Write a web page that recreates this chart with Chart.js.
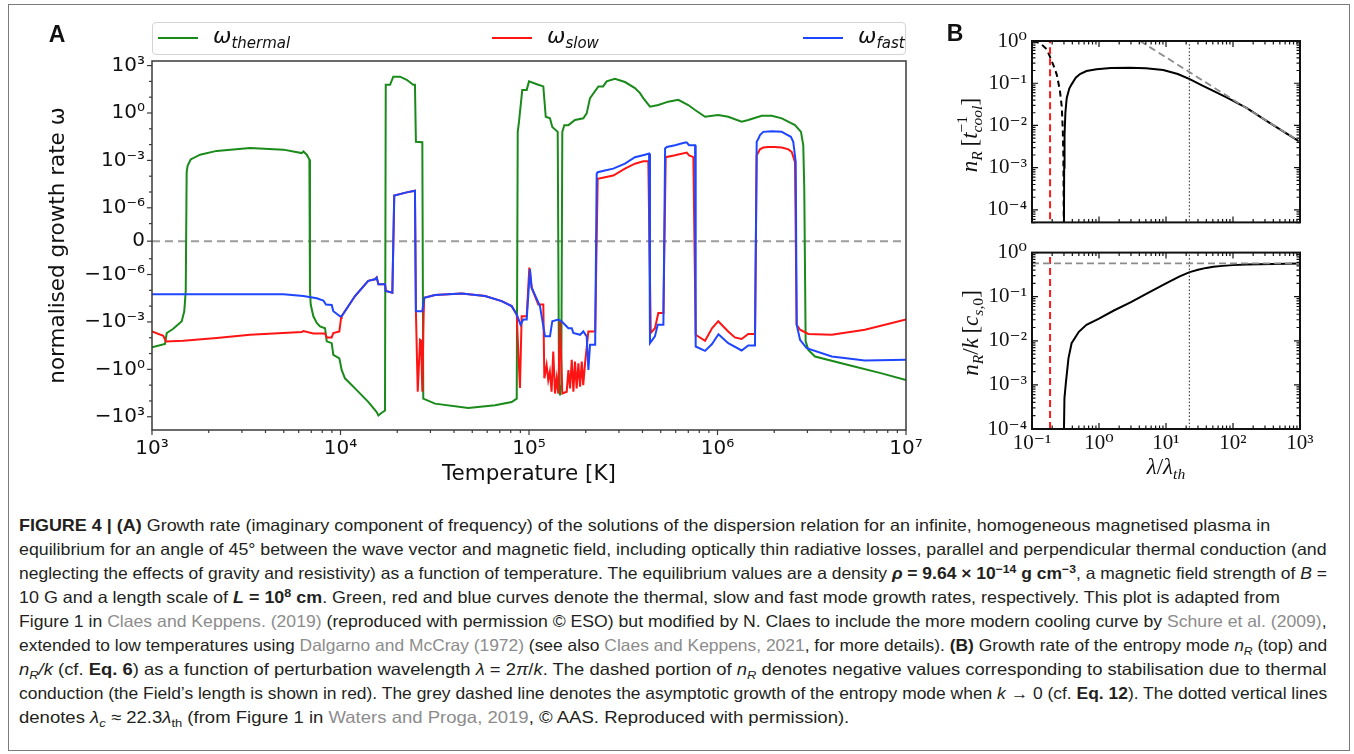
<!DOCTYPE html>
<html lang="en">
<head>
<meta charset="UTF-8">
<title>Figure 4 - growth rates</title>
<script src="https://cdn.jsdelivr.net/npm/chart.js"></script>
<style>
  body { margin: 0; background: #fff; }
  #fig { position: relative; width: 1354px; height: 754px; overflow: hidden; font-family: 'DejaVu Sans', sans-serif; color: #111; }
  .frame { position: absolute; left: 8px; top: 4px; width: 1342px; height: 747px; border: 1px solid #7a7a7a; box-sizing: border-box; }
  canvas { position: absolute; }
  .abs { position: absolute; white-space: nowrap; line-height: 1; }
  .c { transform: translate(-50%, -50%); }
  .rot { transform: translate(-50%, -50%) rotate(-90deg); }
  .panel { font: bold 23px 'Liberation Sans', Arial, sans-serif; }
  #legA { position: absolute; left: 152px; top: 22px; width: 754px; height: 33px; border: 1px solid #d4d4d4; border-radius: 4px; box-sizing: border-box; background: #fff; }
  .li { position: absolute; top: 0; height: 29px; display: flex; align-items: center; }
  .sw { width: 40px; height: 0; border-top: 2.5px solid; margin-right: 15px; }
  .om { font: italic 22px 'DejaVu Sans', sans-serif; }
  .om sub { font-size: 15px; vertical-align: -5px; }
  .ser { font-family: 'Liberation Serif', 'DejaVu Serif', serif; font-size: 23px; }
  .ser sub { font-size: 0.68em; vertical-align: -0.3em; }
  .stack { display: inline-block; font-size: 0.68em; line-height: 0.95; vertical-align: -0.32em; text-align: left; }
  .stack span { display: block; }
  .cap { position: absolute; left: 19px; font: 16.5px 'Liberation Sans', Arial, sans-serif; color: #231f20; white-space: nowrap; transform-origin: 0 50%; line-height: 24px; height: 24px; }
  .cap .r { color: #8c8c8c; }
  .cap sub, .cap sup { font-size: 0.7em; line-height: 0; }
</style>
</head>
<body>
<div id="fig">
  <div class="frame"></div>
  <canvas id="cA" width="930" height="500" style="left:0;top:0"></canvas>
  <canvas id="cB1" width="400" height="240" style="left:930px;top:0"></canvas>
  <canvas id="cB2" width="400" height="265" style="left:930px;top:235px"></canvas>

  <div class="abs panel c" style="left:57px;top:34px">A</div>
  <div class="abs panel c" style="left:955px;top:33px">B</div>

  <div id="legA">
    <div class="li" style="left:5px"><span class="sw" style="border-color:#1a8a1a"></span><span class="om">ω<sub>thermal</sub></span></div>
    <div class="li" style="left:339px"><span class="sw" style="border-color:#ff1414"></span><span class="om">ω<sub>slow</sub></span></div>
    <div class="li" style="left:650px"><span class="sw" style="border-color:#1f46ff"></span><span class="om">ω<sub>fast</sub></span></div>
  </div>

  <div class="abs ser rot" style="left:970px;top:135px"><i>n<sub>R</sub></i>&thinsp;[<i>t</i><span class="stack"><span>−1</span><span><i>cool</i></span></span>]</div>
  <div class="abs ser rot" style="left:972px;top:333px"><i>n<sub>R</sub></i>/<i>k</i>&thinsp;[<i>c</i><sub><i>s</i>,0</sub>]</div>
  <div class="abs ser c" style="left:1166px;top:468px"><i>λ</i>/<i>λ<sub>th</sub></i></div>

  <div class="cap" data-w="1251" style="top:513px"><b>FIGURE 4 | (A)</b> Growth rate (imaginary component of frequency) of the solutions of the dispersion relation for an infinite, homogeneous magnetised plasma in</div>
  <div class="cap" data-w="1308" style="top:537px">equilibrium for an angle of 45° between the wave vector and magnetic field, including optically thin radiative losses, parallel and perpendicular thermal conduction (and</div>
  <div class="cap" data-w="1308" style="top:561px">neglecting the effects of gravity and resistivity) as a function of temperature. The equilibrium values are a density <b><i>ρ</i> = 9.64 × 10<sup>−14</sup> g cm<sup>−3</sup></b>, a magnetic field strength of <i>B</i> =</div>
  <div class="cap" data-w="1261" style="top:585px">10 G and a length scale of <b><i>L</i> = 10<sup>8</sup> cm</b>. Green, red and blue curves denote the thermal, slow and fast mode growth rates, respectively. This plot is adapted from</div>
  <div class="cap" data-w="1308" style="top:609px">Figure 1 in <span class="r">Claes and Keppens. (2019)</span> (reproduced with permission © ESO) but modified by N. Claes to include the more modern cooling curve by <span class="r">Schure et al. (2009)</span>,</div>
  <div class="cap" data-w="1308" style="top:633px">extended to low temperatures using <span class="r">Dalgarno and McCray (1972)</span> (see also <span class="r">Claes and Keppens, 2021</span>, for more details). <b>(B)</b> Growth rate of the entropy mode <i>n<sub>R</sub></i> (top) and</div>
  <div class="cap" data-w="1308" style="top:657px"><i>n<sub>R</sub>/k</i> (cf. <b>Eq. 6</b>) as a function of perturbation wavelength <i>λ</i> = 2<i>π</i>/<i>k</i>. The dashed portion of <i>n<sub>R</sub></i> denotes negative values corresponding to stabilisation due to thermal</div>
  <div class="cap" data-w="1308" style="top:681px">conduction (the Field’s length is shown in red). The grey dashed line denotes the asymptotic growth of the entropy mode when <i>k</i> → 0 (cf. <b>Eq. 12</b>). The dotted vertical lines</div>
  <div class="cap" data-w="830" style="top:705px">denotes <i>λ<sub>c</sub></i> ≈ 22.3<i>λ</i><sub>th</sub> (from Figure 1 in <span class="r">Waters and Proga, 2019</span>, © AAS. Reproduced with permission).</div>
</div>

<script>
// ---- panel A data: temperature [K] and normalised growth rate ----
const tThermal = [1000, 1172, 1197, 1297, 1438, 1483, 1510, 1527, 1546, 1604, 1799, 2204, 3311, 4977, 6223, 6353, 6622, 6839, 6887, 6950,
  7178, 7482, 7786, 8279, 8452, 8981, 9162, 9863, 10140, 10560, 11940, 14030, 15560, 15890, 16410, 17220, 17380, 18320, 19050, 20700,
  22440, 24320, 24830, 25120, 27170, 27490, 31700, 47640, 66070, 80910, 86070, 87140, 88510, 92100, 97230, 100000, 112000, 119100, 122700, 129200,
  132900, 142000, 144300, 146000, 148300, 150200, 153900, 161800, 175400, 194200, 202300, 210700, 233400, 247300, 258300, 285800, 322900, 364800, 388100, 403800,
  438300, 485300, 548300, 619300, 699700, 760300, 859000, 1.009e6, 1.14e6, 1.343e6, 1.456e6, 1.715e6, 1.94e6, 2.193e6, 2.577e6, 2.773e6, 2.851e6, 2.886e6, 2.935e6, 3.033e6,
  3.291e6, 4.94e6, 7.43e6, 1e7];
const wThermal = [-0.04, -0.025, -5e-3, -2.7e-3, -9e-4, -2.1e-4, -1.1e-5, 1.8e-4, 4.8e-4, 1.15e-3, 2.3e-3, 4e-3, 6.1e-3, 4.8e-3, 2.9e-3, 3.7e-3, 2.3e-3, 1.15e-3, -1e-5, -7.9e-5,
  -4.4e-4, -1.16e-3, -1.9e-3, -2.5e-3, -0.017, -0.022, -0.12, -0.2, -1.1, -3.7, -16, -115, -500, -830, -600, -400, 61, 61, 200, 200,
  127, 61, 61, 0.015, 0.014, -71, -148, -280, -190, -116, -71, 0.064, 0.28, 29, 29, 100, 61, 48, 0.58, 0.46,
  0.13, 0.064, -10, -44, -10, 0.064, 0.17, 0.17, 0.36, 0.46, 0.95, 8.7, 48, 48, 100, 148, 91, 38, 18, 8.7,
  2.5, 3.2, 5.2, 6.8, 3.2, 1.55, 0.58, 0.75, 0.58, 0.28, 0.36, 0.67, 0.67, 0.46, 0.17, 0.064, 9e-3, 1.6e-5, -0.017, -0.059,
  -0.155, -0.53, -1.8, -4.8];

const tSlow = [1000, 1148, 1186, 1466, 2204, 3311, 6223, 6353, 7178, 8279, 8452, 8981, 9162, 9863, 10070, 10140, 11940, 14030, 15240, 15560,
  15890, 17220, 17380, 18840, 19280, 22440, 24830, 25120, 25690, 26420, 26730, 27170, 27610, 27800, 31700, 43950, 58480, 71610, 80910, 86070,
  87720, 89540, 91430, 97230, 100400, 103300, 112000, 119100, 120600, 124000, 126500, 129000, 131800, 134500, 137400, 140200, 143000, 146000, 150300, 158500,
  161800, 165100, 168600, 172000, 175400, 179000, 182800, 186600, 190500, 194000, 198000, 206500, 224400, 231400, 253000, 280000, 322900, 364800, 403800, 429500,
  442600, 465900, 485300, 516400, 531300, 595400, 687000, 706600, 744700, 766100, 859000, 935000, 1.009e6, 1.14e6, 1.236e6, 1.343e6, 1.456e6, 1.581e6, 1.614e6, 1.65e6,
  1.68e6, 1.75e6, 1.862e6, 2.0e6, 2.193e6, 2.38e6, 2.477e6, 2.577e6, 2.63e6, 2.741e6, 3.033e6, 4.04e6, 6.05e6, 1e7];
const wSlow = [-4e-3, -7.5e-3, -0.017, -0.0155, -0.0105, -6.5e-3, -4.4e-3, -3.8e-3, -5.3e-3, -5.3e-3, -9.5e-3, -9.5e-3, -5e-3, -4e-3, -5.6e-4, -4.4e-4, -2.3e-5, -2.5e-6, -2e-6, -1.55e-6,
  -4.2e-6, -4.2e-6, -1.1e-5, -1.4e-5, 5.9e-6, 9.5e-6, 1.2e-5, -2.1e-4, -26, -0.0135, -0.015, -26, -3.4e-4, -3e-5, -2e-5, -1.6e-5, -2.3e-5, -4.8e-5, -1e-4, -3.4e-4,
  -0.074, -15, -4.4e-4, -4.4e-4, -3.6e-7, -6.8e-6, -7.9e-5, -7.9e-5, -3.7, -0.53, -4.8, -1.4, -26, -0.074, -34, -3.7, -34, -9e-4, -34, -26,
  -1.1, -16, -0.25, -26, -0.32, -16, -0.41, -12.7, -0.32, -10, -0.5, -4e-3, -4e-3, 6.8e-5, 8.7e-5, 1.1e-4, 3e-4, 6.2e-4, 8.7e-4, 8.7e-4,
  -5e-3, -2.5e-3, -2.7e-4, -2.7e-4, 1.6e-3, 2.1e-3, 3.1e-3, 2.1e-3, 1.6e-3, -6.5e-3, -0.0155, -2.5e-3, -9e-4, -4e-3, -9.5e-3, -0.012, -5.8e-3, -5.8e-3, 2.1e-3, 3.4e-3,
  5e-3, 6.5e-3, 7e-3, 7e-3, 6.5e-3, 5e-3, 3.4e-3, 7.8e-4, -1.5e-3, -3.1e-3, -5.8e-3, -6.5e-3, -3.1e-3, -7.1e-4];

const tFast = [1000, 2204, 4977, 6353, 7482, 8110, 8375, 8981, 9162, 9934, 10140, 11940, 14030, 15240, 15560, 15890, 17220, 17380, 18840, 19280,
  22440, 24830, 25120, 27170, 27800, 31700, 43950, 58480, 71610, 80910, 86070, 90220, 93250, 97230, 101200, 103300, 114300, 121600, 129200, 132900,
  142900, 148900, 155200, 161800, 168600, 171900, 186600, 194200, 202300, 206600, 210700, 224400, 228600, 231400, 252800, 279900, 322900, 364800, 412400, 433500,
  438300, 465600, 481700, 516400, 527300, 538500, 595400, 672800, 687000, 706600, 760300, 766100, 859000, 935000, 1.012e6, 1.14e6, 1.343e6, 1.456e6, 1.581e6, 1.614e6,
  1.65e6, 1.68e6, 1.75e6, 1.94e6, 2.193e6, 2.28e6, 2.45e6, 2.523e6, 2.6e6, 2.63e6, 2.741e6, 2.972e6, 4.04e6, 6.05e6, 1e7];
const wFast = [-1.8e-5, -1.8e-5, -1.8e-5, -2.3e-5, -3.2e-5, -4.4e-5, -7.9e-5, -8.5e-5, -2.1e-4, -4.4e-4, -4.4e-4, -2.3e-5, -2.5e-6, -2e-6, -1.55e-6, -4.2e-6, -4.2e-6, -1.1e-5, -1.4e-5, 5.9e-6,
  9.5e-6, 1.2e-5, -2.1e-4, -2.1e-4, -3e-5, -2e-5, -1.6e-5, -2.3e-5, -4.8e-5, -1e-4, -3.4e-4, -1.5e-3, -7.1e-4, -7.1e-4, -4.6e-7, -6.8e-6, -1e-4, -8.2e-3, -8.2e-3, -9e-4,
  -7.1e-4, -9e-4, -1.5e-3, -2.5e-3, -2.5e-3, -5e-3, -6.5e-3, -4e-3, -8.2e-3, -1.1, -0.028, -0.028, 1.4e-4, 1.8e-4, 2.3e-4, 3e-4, 6.2e-4, 1.6e-3, 2.3e-3, 2.7e-3,
  -0.022, -8.2e-3, -1.5e-3, -1.5e-3, 5.6e-3, 7e-3, 9.1e-3, 0.0135, 0.0135, 9.1e-3, 9.1e-3, -0.036, -0.068, -0.025, -6e-3, -0.022, -0.064, -0.031, -0.031, 0.015,
  0.024, 0.04, 0.064, 0.071, 0.064, 0.05, 0.031, 0.015, 7.8e-4, -1.5e-3, -0.0135, -0.046, -0.155, -0.28, -0.25];

// ---- panel B data: wavelength λ/λth ----
const lamTop = [0.300, 0.302, 0.306, 0.315, 0.33, 0.36, 0.39, 0.45, 0.52, 0.65, 0.92, 1.5, 2.9, 5, 9.1, 15, 22.6, 35, 50.8, 80, 159, 300, 600, 1000];
const nRTop = [5.1e-5, 1e-3, 6e-3, 0.02, 0.045, 0.075, 0.094, 0.135, 0.165, 0.195, 0.215, 0.228, 0.232, 0.225, 0.205, 0.165, 0.125, 0.088, 0.066, 0.046, 0.026, 0.0136, 0.0068, 0.0041];
const lamNeg = [0.103, 0.12, 0.14, 0.166, 0.186, 0.21, 0.234, 0.26, 0.278, 0.288, 0.294, 0.298];
const nRNegMag = [0.99, 0.93, 0.82, 0.64, 0.42, 0.26, 0.16, 0.07, 0.028, 0.008, 0.002, 5.1e-5];
const lamAsym = [4.1, 1000];
const nRAsym = [1, 0.0041];
const lamBot = [0.300, 0.305, 0.32, 0.35, 0.39, 0.5, 0.65, 1.0, 1.64, 3, 5.15, 10, 16, 22.6, 30, 40, 50.8, 70, 100, 159, 400, 1000];
const nRk = [1e-4, 5e-4, 1.1e-3, 4e-3, 8.8e-3, 0.016, 0.023, 0.032, 0.048, 0.075, 0.117, 0.2, 0.29, 0.36, 0.41, 0.45, 0.475, 0.5, 0.52, 0.535, 0.555, 0.565];
const nRkAsym = 0.57;
const lamField = 0.186;
const lamCrit = 22.3;

// ---- tick labels ----
const xTicksA = [1e3, 1e4, 1e5, 1e6, 1e7];
const yTicksA = [1e3, 1, 1e-3, 1e-6, 0, -1e-6, -1e-3, -1, -1e3];
const yMinorA = [1e2, 1e1, 1e-1, 1e-2, 1e-4, 1e-5, 1e-7, -1e-7, -1e-5, -1e-4, -1e-2, -1e-1, -1e1, -1e2];
const xTicksB = [0.1, 1, 10, 100, 1000];
const yTicksB = [1e-4, 1e-3, 1e-2, 1e-1, 1];

const green = '#1a8a1a', red = '#ff1414', blue = '#1f46ff';

const minorsOf = (decades) => decades.flatMap(d => [2, 3, 4, 5, 6, 7, 8, 9].map(k => k * d));
const supMap = { '0': '⁰', '1': '¹', '2': '²', '3': '³', '4': '⁴', '5': '⁵', '6': '⁶', '7': '⁷', '8': '⁸', '9': '⁹', '-': '⁻' };
const sup = n => String(n).split('').map(c => supMap[c]).join('');
const powLabel = v => v === 0 ? '0' : (v < 0 ? '−' : '') + '10' + sup(Math.round(Math.log10(Math.abs(v))));

// symlog like matplotlib: linthresh 1e-7, linscale 1
const LT = 1e-7, LS = 1 / (1 - 0.1);
function symlog(v) {
  const a = Math.abs(v);
  return a <= LT ? LS * v / LT : Math.sign(v) * (LS + Math.log10(a / LT));
}
function symexp(s) {
  const a = Math.abs(s);
  return a <= LS ? s * LT / LS : Math.sign(s) * LT * Math.pow(10, a - LS);
}
class SymLogScale extends Chart.LinearScale {
  static id = 'symlog';
  static defaults = {};
  determineDataLimits() {
    this.min = this.options.min;
    this.max = this.options.max;
  }
  buildTicks() { return []; }
  getPixelForValue(value) {
    const lo = symlog(this.min), hi = symlog(this.max);
    return this.getPixelForDecimal((symlog(value) - lo) / (hi - lo));
  }
  getValueForPixel(pixel) {
    const lo = symlog(this.min), hi = symlog(this.max);
    return symexp(lo + this.getDecimalForPixel(pixel) * (hi - lo));
  }
}
Chart.register(SymLogScale);

// frame + tick marks drawn on the scales
function frameTicks(o) {
  return {
    id: 'frameTicks',
    afterDatasetsDraw(chart) {
      const { ctx, chartArea: a } = chart;
      const dir = o.inward ? 1 : -1;
      ctx.save();
      ctx.strokeStyle = o.color;
      ctx.lineWidth = o.tickWidth;
      const marks = (id, vals, len) => {
        const s = chart.scales[id];
        vals.forEach(v => {
          const p = s.getPixelForValue(v);
          ctx.beginPath();
          if (s.isHorizontal()) {
            if (p < a.left - 0.5 || p > a.right + 0.5) return;
            ctx.moveTo(p, a.bottom); ctx.lineTo(p, a.bottom - dir * len);
            if (o.mirror) { ctx.moveTo(p, a.top); ctx.lineTo(p, a.top + dir * len); }
          } else {
            if (p < a.top - 0.5 || p > a.bottom + 0.5) return;
            ctx.moveTo(a.left, p); ctx.lineTo(a.left + dir * len, p);
            if (o.mirror) { ctx.moveTo(a.right, p); ctx.lineTo(a.right - dir * len, p); }
          }
          ctx.stroke();
        });
      };
      marks('x', o.x.major, o.majorLen);
      marks('x', o.x.minor, o.minorLen);
      marks('y', o.y.major, o.majorLen);
      marks('y', o.y.minor, o.minorLen);
      ctx.lineWidth = o.width;
      ctx.strokeRect(a.left, a.top, a.right - a.left, a.bottom - a.top);
      ctx.restore();
    }
  };
}

const pts = (xs, ys) => xs.map((x, i) => ({ x, y: ys[i] }));
const base = {
  responsive: false, animation: false, events: [],
  elements: { point: { radius: 0 }, line: { tension: 0, borderWidth: 2, fill: false } },
  plugins: { legend: { display: false }, tooltip: { enabled: false } }
};

// ---------- panel A ----------
const fontA = { family: 'DejaVu Sans', size: 20 };
new Chart(document.getElementById('cA'), {
  type: 'line',
  data: {
    datasets: [
      { data: pts([xTicksA[0], xTicksA[4]], [0, 0]), borderColor: '#9c9c9c', borderWidth: 2, borderDash: [8, 5], order: 4 },
      { label: 'thermal', data: pts(tThermal, wThermal), borderColor: green, order: 3 },
      { label: 'slow', data: pts(tSlow, wSlow), borderColor: red, order: 2 },
      { label: 'fast', data: pts(tFast, wFast), borderColor: blue, order: 1 }
    ]
  },
  options: {
    ...base,
    layout: { padding: { left: 0, top: 61, right: 24, bottom: 0 } },
    scales: {
      x: {
        type: 'logarithmic', min: 1e3, max: 1e7,
        afterFit: s => { s.height = 70; },
        afterBuildTicks: s => { s.ticks = xTicksA.map(value => ({ value })); },
        grid: { display: false, drawTicks: false }, border: { display: false },
        ticks: { autoSkip: false, maxRotation: 0, padding: 7, color: '#111', font: fontA, callback: v => powLabel(v) },
        title: { display: true, text: 'Temperature [K]', color: '#111', font: { family: 'DejaVu Sans', size: 21.5 }, padding: { top: 0, bottom: 13 } }
      },
      y: {
        type: 'symlog', min: -6900, max: 1950,
        afterFit: s => { s.width = 152; },
        afterBuildTicks: s => { s.ticks = yTicksA.map(value => ({ value })); },
        grid: { display: false, drawTicks: false }, border: { display: false },
        ticks: { autoSkip: false, padding: 7, color: '#111', font: fontA, callback: v => powLabel(v) },
        title: { display: true, text: 'normalised growth rate ω', color: '#111', font: { family: 'DejaVu Sans', size: 21.5 }, padding: { top: 46, bottom: 0 } }
      }
    }
  },
  plugins: [frameTicks({
    color: '#3a3a3a', width: 1.5, tickWidth: 1.2, inward: false, mirror: false, majorLen: 5, minorLen: 3,
    x: { major: xTicksA, minor: minorsOf([1e3, 1e4, 1e5, 1e6]) },
    y: { major: yTicksA, minor: yMinorA }
  })]
});

// ---------- panel B ----------
const fontB = { family: "'Liberation Serif', 'DejaVu Serif', serif", size: 21 };
const tickOptsB = () => frameTicks({
  color: '#111', width: 2, tickWidth: 1.2, inward: true, mirror: true, majorLen: 6, minorLen: 3.5,
  x: { major: xTicksB, minor: minorsOf([0.1, 1, 10, 100]) },
  y: { major: yTicksB, minor: minorsOf([1e-5, 1e-4, 1e-3, 1e-2, 1e-1]) }
});
const yScaleB = (min) => ({
  type: 'logarithmic', min, max: 1,
  afterFit: s => { s.width = 102; },
  afterBuildTicks: s => { s.ticks = yTicksB.map(value => ({ value })); },
  grid: { display: false, drawTicks: false }, border: { display: false },
  ticks: { autoSkip: false, padding: 5, color: '#111', font: fontB, callback: v => powLabel(v) }
});

new Chart(document.getElementById('cB1'), {
  type: 'line',
  data: {
    datasets: [
      { data: pts(lamAsym, nRAsym), borderColor: '#8c8c8c', borderWidth: 1.8, borderDash: [7, 4] },
      { data: pts([lamCrit, lamCrit], [1e-5, 1]), borderColor: '#222', borderWidth: 1, borderDash: [1.5, 2] },
      { data: pts([lamField, lamField], [1e-5, 1]), borderColor: '#ff1a1a', borderWidth: 2, borderDash: [7, 4] },
      { data: pts(lamNeg, nRNegMag), borderColor: '#000', borderWidth: 2, borderDash: [6, 4] },
      { data: pts(lamTop, nRTop), borderColor: '#000', borderWidth: 2 }
    ]
  },
  options: {
    ...base,
    layout: { padding: { left: 0, top: 41, right: 30, bottom: 10 } },
    scales: {
      x: {
        type: 'logarithmic', min: 0.1, max: 1000,
        afterFit: s => { s.height = 0; },
        grid: { display: false, drawTicks: false }, border: { display: false }, ticks: { display: false }
      },
      y: yScaleB(5.07e-5)
    }
  },
  plugins: [tickOptsB()]
});

new Chart(document.getElementById('cB2'), {
  type: 'line',
  data: {
    datasets: [
      { data: pts([0.1, 1000], [nRkAsym, nRkAsym]), borderColor: '#8c8c8c', borderWidth: 1.8, borderDash: [7, 4] },
      { data: pts([lamCrit, lamCrit], [1e-5, 1]), borderColor: '#222', borderWidth: 1, borderDash: [1.5, 2] },
      { data: pts([lamField, lamField], [1e-5, 1]), borderColor: '#ff1a1a', borderWidth: 2, borderDash: [7, 4] },
      { data: pts(lamBot, nRk), borderColor: '#000', borderWidth: 2 }
    ]
  },
  options: {
    ...base,
    layout: { padding: { left: 0, top: 4, right: 30, bottom: 31 } },
    scales: {
      x: {
        type: 'logarithmic', min: 0.1, max: 1000,
        afterFit: s => { s.height = 40; },
        afterBuildTicks: s => { s.ticks = xTicksB.map(value => ({ value })); },
        grid: { display: false, drawTicks: false }, border: { display: false },
        ticks: { autoSkip: false, maxRotation: 0, padding: 2, color: '#111', font: fontB, callback: v => powLabel(v) }
      },
      y: yScaleB(1e-4)
    }
  },
  plugins: [tickOptsB()]
});

// caption lines: squeeze each line to the measured width of the condensed original
document.querySelectorAll('.cap').forEach(el => {
  const w = +el.dataset.w;
  el.style.transform = 'scaleX(' + (w / el.offsetWidth) + ')';
});
</script>
</body>
</html>
